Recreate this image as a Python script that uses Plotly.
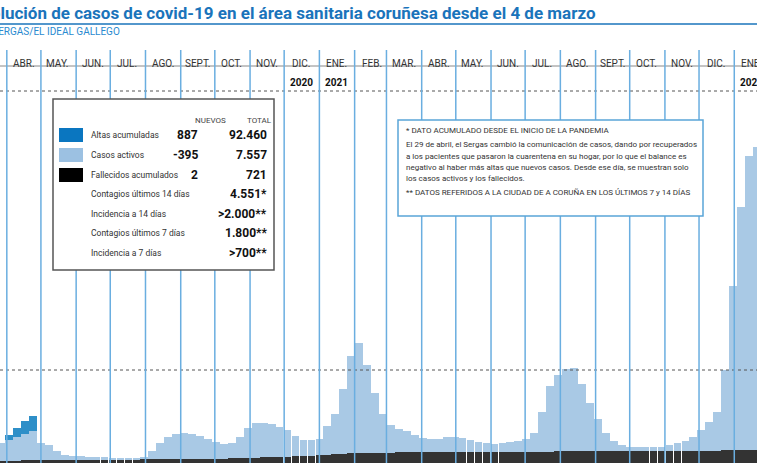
import plotly.graph_objects as go
import pandas as pd

W, H = 757, 463
week_start = "2020-03-27"
# total height of stacked bars (chart units), weekly
totals = [430,500,560,620,680,420,380,250,170,150,140,135,130,125,110,100,100,110,130,250,
          420,560,620,645,620,580,520,460,400,420,560,760,850,860,830,780,720,580,500,500,
          520,800,1050,1600,2300,2580,2100,1500,1050,820,730,680,600,540,510,520,550,550,540,500,
          450,420,400,420,450,480,520,650,1100,1650,1900,2030,2050,1700,1290,950,650,470,380,350,
          345,345,345,350,380,430,480,560,700,880,1100,2000,3800,5500,6600,6800]
fallecidos = [40,45,50,55,60,60,62,64,66,68,70,70,72,72,74,74,75,75,76,78,
              80,82,84,86,88,90,92,94,96,100,105,110,115,120,125,130,135,140,150,160,
              170,180,190,200,210,215,218,220,222,224,226,228,230,230,232,232,234,234,236,236,
              236,238,238,240,240,240,242,242,244,246,248,250,252,254,256,256,258,258,258,260,
              260,260,260,260,262,262,262,264,264,266,268,270,272,274,276,278]
altas = [0,100,200,280,330]
months = ["ABR.","MAY.","JUN.","JUL.","AGO.","SEPT.","OCT.","NOV.","DIC.","ENE.","FEB.","MAR.",
          "ABR.","MAY.","JUN.","JUL.","AGO.","SEPT.","OCT.","NOV.","DIC.","ENE."]
years = {"2020-12": "2020", "2021-01": "2021", "2022-01": "2022"}
leg_labels = ["Altas acumuladas","Casos activos","Fallecidos acumulados","Contagios últimos 14 días",
              "Incidencia a 14 días","Contagios últimos 7 días","Incidencia a 7 días"]
leg_nuevos = ["887","-395","2","","","",""]
leg_total = ["92.460","7.557","721","4.551*",">2.000**","1.800**",">700**"]
note_lines = ["* DATO ACUMULADO DESDE EL INICIO DE LA PANDEMIA",
              "El 29 de abril, el Sergas cambió la comunicación de casos, dando por recuperados",
              "a los pacientes que pasaron la cuarentena en su hogar, por lo que el balance es",
              "negativo al haber más altas que nuevos casos. Desde ese día, se muestran solo",
              "los casos activos y los fallecidos.",
              "** DATOS REFERIDOS A LA CIUDAD DE A CORUÑA EN LOS ÚLTIMOS 7 y 14 DÍAS"]

dates = pd.date_range(week_start, periods=len(totals), freq="7D")
activos = [t - f for t, f in zip(totals, fallecidos)]
alt = altas + [0] * (len(totals) - len(altas))
wid = 7 * 86400000 * 0.97

fig = go.Figure()
fig.add_bar(x=dates, y=fallecidos, marker_color="#333333", width=wid, marker_line_width=0)
fig.add_bar(x=dates, y=activos, marker_color="#a9c9e5", width=wid, marker_line_width=0)
fig.add_bar(x=dates, y=alt, marker_color="#2e8fc8", width=wid, marker_line_width=0)

def py(px):
    return 1 - px / H

shapes, ann = [], []
shapes.append(dict(type="line", xref="paper", yref="paper", x0=0, x1=1, y0=py(24), y1=py(24),
                   line=dict(color="#1a74bb", width=1.5)))
shapes.append(dict(type="line", xref="paper", yref="paper", x0=0, x1=1, y0=py(66), y1=py(66),
                   line=dict(color="#888", width=1)))
for v in [2000, 8000]:
    shapes.append(dict(type="line", xref="paper", yref="y", x0=0, x1=1, y0=v, y1=v,
                       line=dict(color="#555", width=1, dash="dot")))
mstarts = pd.date_range("2020-04-01", "2022-01-01", freq="MS")
for m in mstarts:
    shapes.append(dict(type="line", xref="x", yref="paper", x0=m, x1=m, y0=0, y1=py(50),
                       line=dict(color="#6aaee0", width=1.5), layer="above"))
for i, m in enumerate(mstarts):
    mid = m + pd.Timedelta(days=15)
    ann.append(dict(x=mid, y=py(56), xref="x", yref="paper", text=months[i], showarrow=False,
                    font=dict(family="Roboto", size=10, color="#333")))
    key = m.strftime("%Y-%m")
    if key in years:
        ann.append(dict(x=mid, y=py(75), xref="x", yref="paper", text="<b>" + years[key] + "</b>",
                        showarrow=False, font=dict(family="Roboto", size=10, color="#111")))
shapes.append(dict(type="rect", xref="paper", yref="paper", x0=53/W, x1=274/W, y0=py(270), y1=py(99),
                   fillcolor="white", line=dict(color="#555", width=1.5), layer="above"))
shapes.append(dict(type="rect", xref="paper", yref="paper", x0=398/W, x1=703/W, y0=py(216), y1=py(120),
                   fillcolor="white", line=dict(color="#5aa5d8", width=1.5), layer="above"))
sw = ["#0a76c0", "#9cc1e2", "#000000"]
rows = [135, 155, 175, 194, 214, 233, 253]
for i, c in enumerate(sw):
    shapes.append(dict(type="rect", xref="paper", yref="paper", x0=59/W, x1=83/W,
                       y0=py(rows[i] + 7), y1=py(rows[i] - 7), fillcolor=c, line=dict(width=0), layer="above"))
ann.append(dict(x=193/W, y=py(114), xref="paper", yref="paper", text="NUEVOS", showarrow=False,
                font=dict(family="Roboto", size=8, color="#444")))
ann.append(dict(x=245/W, y=py(114), xref="paper", yref="paper", text="TOTAL", showarrow=False,
                font=dict(family="Roboto", size=8, color="#444")))
for i, r in enumerate(rows):
    ann.append(dict(x=89/W, y=py(r), xref="paper", yref="paper", text=leg_labels[i], showarrow=False,
                    xanchor="left", yanchor="middle", font=dict(family="Roboto", size=8.5, color="#333")))
    if leg_nuevos[i]:
        ann.append(dict(x=200/W, y=py(r), xref="paper", yref="paper", text="<b>" + leg_nuevos[i] + "</b>",
                        showarrow=False, xanchor="right", yanchor="middle",
                        font=dict(family="Roboto", size=12, color="#111")))
    ann.append(dict(x=269/W, y=py(r), xref="paper", yref="paper", text="<b>" + leg_total[i] + "</b>",
                    showarrow=False, xanchor="right", yanchor="middle",
                    font=dict(family="Roboto", size=12, color="#111")))
note_y = [130, 145, 156, 167, 178, 192]
for t, yy in zip(note_lines, note_y):
    ann.append(dict(x=404/W, y=py(yy), xref="paper", yref="paper", text=t, showarrow=False,
                    xanchor="left", yanchor="middle", font=dict(family="Roboto", size=8, color="#333")))
ann.append(dict(x=598/W, y=py(13), xref="paper", yref="paper", xanchor="right", yanchor="middle",
                text="<b>Evolución de casos de covid-19 en el área sanitaria coruñesa desde el 4 de marzo</b>",
                showarrow=False, font=dict(family="Roboto", size=17, color="#1a74bb")))
ann.append(dict(x=122/W, y=py(32), xref="paper", yref="paper", xanchor="right", yanchor="middle",
                text="FUENTE: SERGAS/EL IDEAL GALLEGO", showarrow=False,
                font=dict(family="Roboto", size=10, color="#2a8ad0")))

fig.update_layout(width=W, height=H, margin=dict(l=0, r=0, t=0, b=0), barmode="stack", bargap=0,
                  showlegend=False, plot_bgcolor="white", paper_bgcolor="white",
                  xaxis=dict(visible=False, range=["2020-03-26", "2022-01-21"]),
                  yaxis=dict(visible=False, range=[0, 9957]),
                  shapes=shapes, annotations=ann)
fig.write_html("out.html", config={"displayModeBar": False},
               post_script="document.body.style.margin='0';document.body.style.overflow='hidden';")
